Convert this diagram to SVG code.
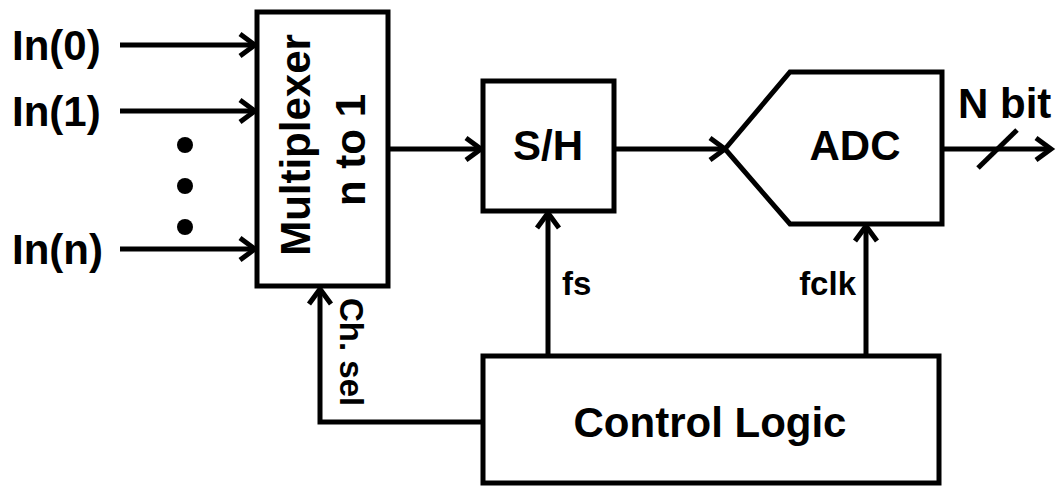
<svg xmlns="http://www.w3.org/2000/svg" width="1061" height="486" viewBox="0 0 1061 486">
<defs>
<style>
.box{fill:#fff;stroke:#000;stroke-width:5}
.ln{fill:none;stroke:#000;stroke-width:5}
.big{font-family:"Liberation Sans",Arial,sans-serif;font-weight:bold;font-size:42px;fill:#000}
.sm{font-family:"Liberation Sans",Arial,sans-serif;font-weight:bold;font-size:33px;fill:#000}
</style>
<marker id="ah" markerUnits="userSpaceOnUse" markerWidth="30" markerHeight="30" viewBox="-20 -15 24 30" refX="0" refY="0" orient="auto" overflow="visible">
<path d="M-15,-11 L0,0 L-15,11" fill="none" stroke="#000" stroke-width="5"/>
</marker>
</defs>
<rect width="1061" height="486" fill="#fff"/>
<g id="connectors">
<line class="ln" x1="120" y1="45" x2="255" y2="45" marker-end="url(#ah)"/>
<line class="ln" x1="120" y1="111" x2="255" y2="111" marker-end="url(#ah)"/>
<line class="ln" x1="120" y1="249" x2="255" y2="249" marker-end="url(#ah)"/>
<line class="ln" x1="389" y1="149" x2="481" y2="149" marker-end="url(#ah)"/>
<line class="ln" x1="615" y1="149" x2="725" y2="149" marker-end="url(#ah)"/>
<line class="ln" x1="943" y1="149" x2="1051" y2="149" marker-end="url(#ah)"/>
<line class="ln" x1="978" y1="168" x2="1017" y2="130"/>
<line class="ln" x1="548" y1="356" x2="548" y2="213" marker-end="url(#ah)"/>
<line class="ln" x1="866" y1="356" x2="866" y2="226" marker-end="url(#ah)"/>
<polyline class="ln" points="483,422 320,422 320,289" marker-end="url(#ah)"/>
<text class="sm" x="562" y="295">fs</text>
<text class="sm" x="856" y="295" text-anchor="end">fclk</text>
<text class="sm" transform="translate(340,298) rotate(90)">Ch. sel</text>
</g>
<g id="inputs">
<text class="big" x="12" y="60">In(0)</text>
<text class="big" x="12" y="126">In(1)</text>
<text class="big" x="12" y="264">In(n)</text>
<circle cx="185" cy="145" r="8"/>
<circle cx="185" cy="186" r="8"/>
<circle cx="185" cy="227" r="8"/>
</g>
<g id="mux">
<rect class="box" x="257" y="12" width="131" height="274"/>
<text class="big" text-anchor="middle" transform="translate(310,145) rotate(-90)">Multiplexer</text>
<text class="big" text-anchor="middle" transform="translate(365,150) rotate(-90)">n to 1</text>
</g>
<g id="sh">
<rect class="box" x="483" y="81" width="131" height="130"/>
<text class="big" x="548" y="160" text-anchor="middle">S/H</text>
</g>
<g id="adc">
<polygon class="box" points="725,149 790,72 942,72 942,224 790,224"/>
<text class="big" x="855" y="160" text-anchor="middle">ADC</text>
</g>
<g id="output">
<text class="big" x="958" y="118">N bit</text>
</g>
<g id="control">
<rect class="box" x="483" y="356" width="456" height="127"/>
<text class="big" x="710" y="437" text-anchor="middle">Control Logic</text>
</g>
</svg>
